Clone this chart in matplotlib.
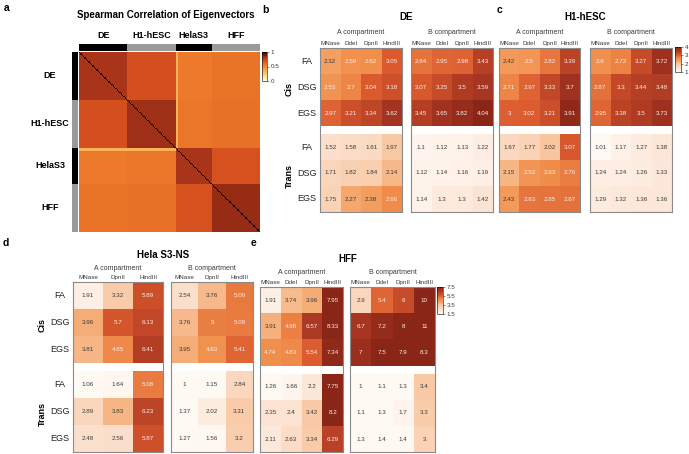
import numpy as np
import matplotlib
matplotlib.use('Agg')
import matplotlib.pyplot as plt
from matplotlib.colors import LinearSegmentedColormap, Normalize
from matplotlib.cm import ScalarMappable

plt.rcParams['font.family'] = ['Liberation Sans', 'DejaVu Sans']

# ---------------- data ----------------
# panel a
cell_types = ['DE', 'H1-hESC', 'HelaS3', 'HFF']
samples_per_type = [36, 36, 27, 36]
block_corr = [[0.82, 0.70, 0.55, 0.57],
              [0.70, 0.83, 0.56, 0.58],
              [0.55, 0.56, 0.82, 0.69],
              [0.57, 0.58, 0.69, 0.84]]
outlier_corr = 0.33     # first HelaS3 samples vs DE / H1-hESC
n_outlier = 2

enzymes4 = ['MNase', 'DdeI', 'DpnII', 'HindIII']
enzymes3 = ['MNase', 'DpnII', 'HindIII']
crosslinkers = ['FA', 'DSG', 'EGS']

DE_A_cis = [[2.32, 2.59, 2.62, 3.05], [2.53, 2.7, 3.04, 3.18], [2.97, 3.21, 3.34, 3.62]]
DE_A_trans = [[1.52, 1.58, 1.61, 1.97], [1.71, 1.82, 1.84, 2.14], [1.75, 2.27, 2.38, 2.66]]
DE_B_cis = [[2.84, 2.95, 2.98, 3.43], [3.07, 3.25, 3.5, 3.59], [3.45, 3.65, 3.82, 4.04]]
DE_B_trans = [[1.1, 1.12, 1.13, 1.22], [1.12, 1.14, 1.16, 1.19], [1.14, 1.3, 1.3, 1.42]]

H1_A_cis = [[2.42, 2.5, 2.82, 3.39], [2.71, 2.97, 3.33, 3.7], [3, 3.02, 3.21, 3.91]]
H1_A_trans = [[1.67, 1.77, 2.02, 3.07], [2.15, 2.52, 2.63, 2.76], [2.43, 2.83, 2.85, 2.87]]
H1_B_cis = [[2.6, 2.72, 3.27, 3.72], [2.87, 3.3, 3.44, 3.48], [2.95, 3.38, 3.5, 3.73]]
H1_B_trans = [[1.01, 1.17, 1.27, 1.38], [1.24, 1.24, 1.26, 1.33], [1.29, 1.32, 1.36, 1.36]]

Hela_A_cis = [[1.91, 3.32, 5.89], [3.96, 5.7, 6.13], [3.81, 4.85, 6.41]]
Hela_A_trans = [[1.06, 1.64, 5.08], [2.89, 3.83, 6.23], [2.48, 2.56, 5.87]]
Hela_B_cis = [[2.54, 3.76, 5.09], [3.76, 5, 5.08], [3.95, 4.63, 5.41]]
Hela_B_trans = [[1, 1.15, 2.84], [1.37, 2.02, 3.31], [1.27, 1.56, 3.2]]

HFF_A_cis = [[1.91, 3.74, 3.96, 7.95], [3.91, 4.98, 6.57, 8.33], [4.74, 4.83, 5.54, 7.34]]
HFF_A_trans = [[1.26, 1.66, 2.2, 7.75], [2.35, 2.4, 3.42, 8.2], [2.11, 2.63, 3.34, 6.29]]
HFF_B_cis = [[2.9, 5.4, 6, 10], [6.7, 7.2, 8, 11], [7, 7.5, 7.9, 8.3]]
HFF_B_trans = [[1, 1.1, 1.3, 3.4], [1.1, 1.3, 1.7, 3.3], [1.3, 1.4, 1.4, 3]]

# ---------------- figure helpers ----------------
W, H = 689, 454
fig = plt.figure(figsize=(W / 100, H / 100), dpi=100)


def axpx(x0, y0, x1, y1):
    return fig.add_axes([x0 / W, 1 - y1 / H, (x1 - x0) / W, (y1 - y0) / H])


def tpx(x, y, s, **kw):
    kw.setdefault('ha', 'center')
    kw.setdefault('va', 'center')
    fig.text(x / W, 1 - y / H, s, **kw)


cmap_a = LinearSegmentedColormap.from_list('a', [(0, '#FFFFE2'), (0.25, '#FEC66E'), (0.5, '#F5882E'),
                                                  (0.7, '#D4501E'), (0.82, '#A8341A'), (0.9, '#6E1A0C'),
                                                  (1, '#1E0000')])
cmap_h = LinearSegmentedColormap.from_list('h', [(0, '#FFF9F4'), (0.17, '#FBDFCC'), (0.35, '#F8C49C'),
                                                  (0.44, '#F4A063'), (0.55, '#F08C4A'), (0.68, '#DB5A2E'),
                                                  (0.87, '#A53421'), (1, '#8A2618')])
frame_col = '#8a8a8a'
txt_dark = '#3a3a3a'

# ---------------- panel a ----------------
tpx(4, 8, 'a', fontsize=7.5, fontweight='bold', ha='left')
tpx(166, 15, 'Spearman Correlation of Eigenvectors', fontsize=7, fontweight='bold')

idx = np.repeat(np.arange(len(cell_types)), samples_per_type)
M = np.array(block_corr)[idx][:, idx]
n_de_h1 = samples_per_type[0] + samples_per_type[1]
M[n_de_h1:n_de_h1 + n_outlier, :n_de_h1] = outlier_corr
M[:n_de_h1, n_de_h1:n_de_h1 + n_outlier] = outlier_corr
np.fill_diagonal(M, 1.0)
N = M.shape[0]

hx0, hy0, hx1, hy1 = 79, 52, 260, 232
axh = axpx(hx0, hy0, hx1, hy1)
axh.imshow(M, cmap=cmap_a, vmin=0, vmax=1, aspect='auto', interpolation='nearest',
           extent=(0, N, N, 0))
axh.set_axis_off()

bar_cols = ['#000000', '#9a9a9a', '#000000', '#9a9a9a']
bounds = np.concatenate([[0], np.cumsum(samples_per_type)])
axt = axpx(hx0, 44, hx1, 51)
axl = axpx(72, hy0, 78, hy1)
for k in range(len(cell_types)):
    axt.axvspan(bounds[k], bounds[k + 1], color=bar_cols[k], lw=0)
    axl.axhspan(bounds[k], bounds[k + 1], color=bar_cols[k], lw=0)
    cx = hx0 + (hx1 - hx0) * (bounds[k] + bounds[k + 1]) / 2 / N
    cy = hy0 + (hy1 - hy0) * (bounds[k] + bounds[k + 1]) / 2 / N
    tpx(cx, 35, cell_types[k], fontsize=6.5, fontweight='bold')
    tpx(50, cy, cell_types[k], fontsize=6.5, fontweight='bold')
axt.set_xlim(0, N); axt.set_axis_off()
axl.set_ylim(N, 0); axl.set_axis_off()

cax = axpx(262, 52, 267, 81)
cb = fig.colorbar(ScalarMappable(Normalize(0, 1), cmap_a), cax=cax, ticks=[0, 0.5, 1])
cb.ax.set_yticklabels(['0', '0.5', '1'])
cb.ax.tick_params(labelsize=4.5, length=1.5, width=0.4, pad=1, colors=txt_dark)
cb.outline.set_linewidth(0.4)


# ---------------- panels b-e ----------------
def comp_block(x0, x1, ytop, row_h, gap, cis, trans, cols, norm, thr):
    ncol = len(cols)
    vals = np.vstack([np.array(cis, float), np.full((1, ncol), np.nan), np.array(trans, float)])
    ax = axpx(x0, ytop, x1, ytop + 6 * row_h + gap)
    g = gap / row_h
    yedges = np.array([0, 1, 2, 3, 3 + g, 4 + g, 5 + g, 6 + g])
    xedges = np.arange(ncol + 1)
    ax.pcolormesh(xedges, yedges, np.ma.masked_invalid(vals), cmap=cmap_h, norm=norm)
    ax.set_xlim(0, ncol)
    ax.set_ylim(yedges[-1], 0)
    for i in range(vals.shape[0]):
        if np.isnan(vals[i, 0]):
            continue
        yc = (yedges[i] + yedges[i + 1]) / 2
        for j in range(ncol):
            v = vals[i, j]
            ax.text(j + 0.5, yc, f'{v:g}', ha='center', va='center', fontsize=4.5,
                    color=(txt_dark if v < thr else '#fbefe8'))
    ax.set_xticks(np.arange(ncol) + 0.5)
    ax.set_xticklabels(cols, fontsize=4.5, color=txt_dark)
    ax.xaxis.tick_top()
    ax.tick_params(length=0, pad=1.2)
    ax.set_yticks([])
    for sp in ax.spines.values():
        sp.set_color(frame_col)
        sp.set_linewidth(0.8)
    return ax


def row_labels(xblock, ytop, row_h, gap):
    cis_c = ytop + 1.5 * row_h
    tr_c = ytop + 3 * row_h + gap + 1.5 * row_h
    for k, lab in enumerate(crosslinkers):
        tpx(xblock - 13, ytop + (k + 0.5) * row_h, lab, fontsize=6.5, color='#222222')
        tpx(xblock - 13, ytop + 3 * row_h + gap + (k + 0.5) * row_h, lab, fontsize=6.5, color='#222222')
    tpx(xblock - 31, cis_c + 2, 'Cis', fontsize=6.5, fontweight='bold', rotation=90)
    tpx(xblock - 31, tr_c + 3, 'Trans', fontsize=6.5, fontweight='bold', rotation=90)


def headers(xa0, xa1, xb0, xb1, y_title, y_comp, title):
    tpx((xa0 + xb1) / 2, y_title, title, fontsize=7, fontweight='bold')
    tpx((xa0 + xa1) / 2, y_comp, 'A compartment', fontsize=5, color=txt_dark)
    tpx((xb0 + xb1) / 2, y_comp, 'B compartment', fontsize=5, color=txt_dark)


norm_bc = Normalize(1, 4, clip=True)
norm_de = Normalize(1.5, 7.5, clip=True)

# b: DE
tpx(262, 10, 'b', fontsize=7.5, fontweight='bold', ha='left')
rh, gp, yt = 26, 8, 48
comp_block(320, 402, yt, rh, gp, DE_A_cis, DE_A_trans, enzymes4, norm_bc, 2.45)
comp_block(411, 493, yt, rh, gp, DE_B_cis, DE_B_trans, enzymes4, norm_bc, 2.45)
headers(320, 402, 411, 493, 17, 32, 'DE')
row_labels(320, yt, rh, gp)

# c: H1-hESC
tpx(497, 10, 'c', fontsize=7.5, fontweight='bold', ha='left')
comp_block(499, 580, yt, rh, gp, H1_A_cis, H1_A_trans, enzymes4, norm_bc, 2.45)
comp_block(590, 672, yt, rh, gp, H1_B_cis, H1_B_trans, enzymes4, norm_bc, 2.45)
headers(499, 580, 590, 672, 17, 32, 'H1-hESC')
cax = axpx(675, 47, 681, 72)
cb = fig.colorbar(ScalarMappable(norm_bc, cmap_h), cax=cax, ticks=[1, 2, 3, 4])
cb.ax.tick_params(labelsize=4.5, length=1.5, width=0.4, pad=1, colors=txt_dark)
cb.outline.set_linewidth(0.4)

# d: Hela S3-NS
tpx(3, 243, 'd', fontsize=7.5, fontweight='bold', ha='left')
rh_d, yt_d = 27, 282
comp_block(73, 163, yt_d, rh_d, gp, Hela_A_cis, Hela_A_trans, enzymes3, norm_de, 4.3)
comp_block(171, 253, yt_d, rh_d, gp, Hela_B_cis, Hela_B_trans, enzymes3, norm_de, 4.3)
headers(73, 163, 171, 253, 255, 269, 'Hela S3-NS')
row_labels(73, yt_d, rh_d, gp)

# e: HFF
tpx(251, 243, 'e', fontsize=7.5, fontweight='bold', ha='left')
rh_e, yt_e = 26.2, 287
comp_block(260, 343, yt_e, rh_e, gp, HFF_A_cis, HFF_A_trans, enzymes4, norm_de, 4.3)
comp_block(350, 435, yt_e, rh_e, gp, HFF_B_cis, HFF_B_trans, enzymes4, norm_de, 4.3)
headers(260, 343, 350, 435, 259, 273, 'HFF')
cax = axpx(437, 287, 443, 314)
cb = fig.colorbar(ScalarMappable(norm_de, cmap_h), cax=cax, ticks=[1.5, 3.5, 5.5, 7.5])
cb.ax.tick_params(labelsize=4.5, length=1.5, width=0.4, pad=1, colors=txt_dark)
cb.outline.set_linewidth(0.4)

fig.savefig('out.png', dpi=100)
